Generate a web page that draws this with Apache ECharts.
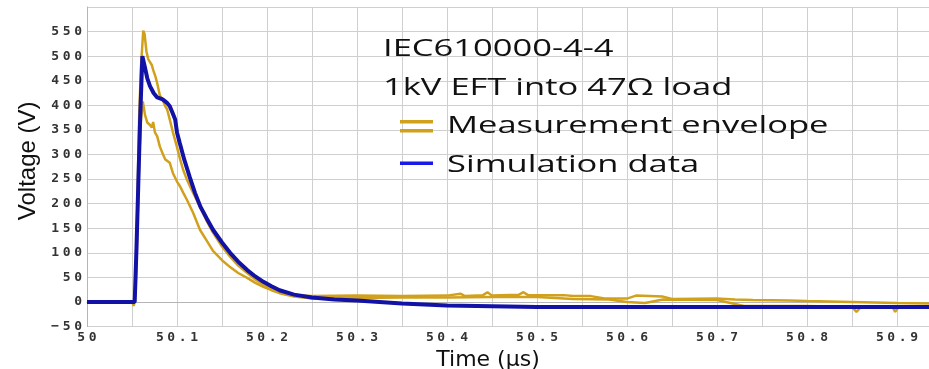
<!DOCTYPE html>
<html>
<head>
<meta charset="utf-8">
<script src="https://cdn.jsdelivr.net/npm/echarts@6/dist/echarts.min.js"></script>
<style>
  html, body { margin: 0; padding: 0; background: #ffffff; }
  #chart { width: 929px; height: 369px; }
</style>
</head>
<body>
<div id="chart"></div>
<script>
// ---- data ----
const xTickLabels = ['50', '50.1', '50.2', '50.3', '50.4', '50.5', '50.6', '50.7', '50.8', '50.9'];
const yTickLabels = ['−50', '0', '50', '100', '150', '200', '250', '300', '350', '400', '450', '500', '550'];

const simTime = [50.000, 50.053, 50.055, 50.057, 50.059, 50.0615, 50.064, 50.067, 50.070, 50.074, 50.078, 50.084, 50.089, 50.092, 50.095, 50.098, 50.100, 50.103, 50.108, 50.114, 50.120, 50.126, 50.133, 50.140, 50.150, 50.159, 50.168, 50.178, 50.187, 50.196, 50.205, 50.214, 50.230, 50.250, 50.275, 50.300, 50.350, 50.400, 50.450, 50.500, 50.600, 50.700, 50.800, 50.936];
const simVolt = [0, 0, 110, 240, 370, 500, 480, 455, 439, 425, 416, 412, 405, 398, 385, 371, 345, 324, 290, 255, 222, 194, 170, 147, 121, 100, 82, 65, 52, 41, 32, 24, 15, 9, 5, 3, -3, -7, -8.5, -10, -10, -10, -10, -10];

const envHighTime = [50.000, 50.050, 50.052, 50.054, 50.056, 50.058, 50.060, 50.0625, 50.064, 50.066, 50.068, 50.070, 50.072, 50.0735, 50.076, 50.078, 50.081, 50.084, 50.087, 50.089, 50.092, 50.0955, 50.100, 50.1035, 50.107, 50.111, 50.1145, 50.118, 50.1255, 50.133, 50.140, 50.150, 50.159, 50.168, 50.178, 50.187, 50.196, 50.205, 50.214, 50.230, 50.250, 50.300, 50.350, 50.400, 50.415, 50.420, 50.440, 50.445, 50.450, 50.480, 50.485, 50.490, 50.530, 50.540, 50.560, 50.575, 50.600, 50.610, 50.640, 50.650, 50.700, 50.720, 50.740, 50.780, 50.800, 50.850, 50.900, 50.936];
const envHighVolt = [0, 0, -6, 30, 200, 380, 480, 552, 545, 510, 494, 488, 482, 472, 459, 445, 420, 412, 398, 392, 371, 345, 315, 290, 268, 249, 235, 222, 194, 165, 141, 113, 92, 74, 59, 46, 35, 27, 20, 14, 12, 13, 12, 13, 17, 12, 14, 20, 13, 15, 20, 14, 14, 12, 12, 7, 7, 13, 11, 6, 7, 5, 4, 3, 2, 0, -2, -3];

const envLowTime = [50.000, 50.050, 50.052, 50.054, 50.056, 50.058, 50.060, 50.062, 50.0645, 50.067, 50.070, 50.072, 50.0735, 50.0755, 50.078, 50.081, 50.0845, 50.087, 50.092, 50.0955, 50.100, 50.1035, 50.107, 50.111, 50.118, 50.1255, 50.133, 50.140, 50.150, 50.159, 50.168, 50.178, 50.187, 50.196, 50.205, 50.214, 50.230, 50.250, 50.300, 50.350, 50.400, 50.450, 50.500, 50.540, 50.580, 50.600, 50.620, 50.640, 50.700, 50.730, 50.800, 50.850, 50.855, 50.860, 50.895, 50.898, 50.902, 50.936];
const envLowVolt = [0, 0, -8, 20, 150, 290, 370, 408, 380, 365, 360, 355, 366, 345, 337, 316, 300, 290, 283, 262, 245, 235, 222, 208, 181, 147, 125, 104, 85, 71, 59, 49, 39, 31, 24, 18, 11, 7, 8, 9, 9, 10, 10, 6, 5, 0, -2, 5, 4, -8, -8, -10, -20, -10, -10, -20, -10, -10];

const zip = (t, v) => t.map((x, i) => [x, v[i]]);

const GOLD = '#d2a11c';
const BLUE = '#1212a6';
const LEGEND_BLUE = '#1a1ae8';

const spaced = (s) => s.split('').join('{s| }');

const chart = echarts.init(document.getElementById('chart'), null, { renderer: 'canvas' });

const option = {
  animation: false,
  backgroundColor: '#ffffff',
  grid: { left: 87, right: 0, top: 7, bottom: 42.4, containLabel: false, outerBoundsMode: 'none' },
  xAxis: {
    type: 'value',
    min: 50,
    max: 50.9356,
    interval: 0.05,
    name: 'Time (µs)',
    nameLocation: 'middle',
    nameGap: 18,
    nameTextStyle: { fontFamily: 'DejaVu Sans', fontSize: 22, color: '#111', padding: [0, 40, 0, 0] },
    axisLine: { show: true, lineStyle: { color: '#b5b5b5', width: 1 } },
    axisTick: { show: false },
    splitLine: { show: true, lineStyle: { color: '#cfcfcf', width: 1 } },
    axisLabel: {
      margin: 5,
      showMaxLabel: false,
      fontFamily: 'DejaVu Sans Mono',
      fontWeight: 'bold',
      fontSize: 13,
      color: '#333333',
      rich: { s: { fontSize: 6, fontFamily: 'DejaVu Sans Mono' } },
      formatter: function (v) {
        const k = (v - 50) * 10;
        const idx = Math.round(k);
        if (Math.abs(k - idx) > 1e-6 || idx < 0 || idx >= xTickLabels.length) return '';
        return spaced(xTickLabels[idx]);
      }
    }
  },
  yAxis: {
    type: 'value',
    min: -50,
    max: 600,
    interval: 50,
    name: 'Voltage (V)',
    nameLocation: 'middle',
    nameGap: 46,
    nameTextStyle: { fontFamily: '"Liberation Sans Narrow", "Liberation Sans"', fontSize: 24, color: '#111', padding: [0, 0, 0, 12] },
    axisLine: { show: true, lineStyle: { color: '#b5b5b5', width: 1 } },
    axisTick: { show: false },
    splitLine: { show: true, lineStyle: { color: '#cfcfcf', width: 1 } },
    axisLabel: {
      margin: 5,
      showMaxLabel: false,
      fontFamily: 'DejaVu Sans Mono',
      fontWeight: 'bold',
      fontSize: 13,
      color: '#333333',
      rich: { s: { fontSize: 6, fontFamily: 'DejaVu Sans Mono' } },
      formatter: function (v) {
        const idx = Math.round((v + 50) / 50);
        if (idx < 0 || idx >= yTickLabels.length) return '';
        return spaced(yTickLabels[idx]);
      }
    }
  },
  series: [
    {
      name: 'Measurement envelope',
      type: 'line',
      data: zip(envLowTime, envLowVolt),
      showSymbol: false,
      lineStyle: { color: GOLD, width: 2.5 },
      itemStyle: { color: GOLD },
      z: 2
    },
    {
      name: 'Measurement envelope',
      type: 'line',
      data: zip(envHighTime, envHighVolt),
      showSymbol: false,
      lineStyle: { color: GOLD, width: 2.5 },
      itemStyle: { color: GOLD },
      z: 2
    },
    {
      name: 'Simulation data',
      type: 'line',
      data: zip(simTime, simVolt),
      showSymbol: false,
      lineStyle: { color: BLUE, width: 4 },
      itemStyle: { color: BLUE },
      z: 3
    }
  ],
  graphic: [
    {
      type: 'text', x: 383, y: 49, scaleX: 1.5, originX: 0, originY: 0, z: 10,
      style: { text: 'IEC610000-4-4', x: 0, y: 0, fill: '#111', font: '23px "Open Sans"', textVerticalAlign: 'middle', verticalAlign: 'middle' }
    },
    {
      type: 'text', x: 383, y: 88, scaleX: 1.5, originX: 0, originY: 0, z: 10,
      style: { text: '1kV EFT into 47Ω load', x: 0, y: 0, fill: '#111', font: '23px "Open Sans"', textVerticalAlign: 'middle', verticalAlign: 'middle' }
    },
    { type: 'rect', z: 10, shape: { x: 400, y: 120, width: 33, height: 3.5 }, style: { fill: GOLD } },
    { type: 'rect', z: 10, shape: { x: 400, y: 129, width: 33, height: 3.5 }, style: { fill: GOLD } },
    {
      type: 'text', x: 447, y: 126, scaleX: 1.5, originX: 0, originY: 0, z: 10,
      style: { text: 'Measurement envelope', x: 0, y: 0, fill: '#111', font: '23px "Open Sans"', textVerticalAlign: 'middle', verticalAlign: 'middle' }
    },
    { type: 'rect', z: 10, shape: { x: 400, y: 161.5, width: 33, height: 3.5 }, style: { fill: LEGEND_BLUE } },
    {
      type: 'text', x: 447, y: 165, scaleX: 1.5, originX: 0, originY: 0, z: 10,
      style: { text: 'Simulation data', x: 0, y: 0, fill: '#111', font: '23px "Open Sans"', textVerticalAlign: 'middle', verticalAlign: 'middle' }
    }
  ]
};

chart.setOption(option);
</script>
</body>
</html>
